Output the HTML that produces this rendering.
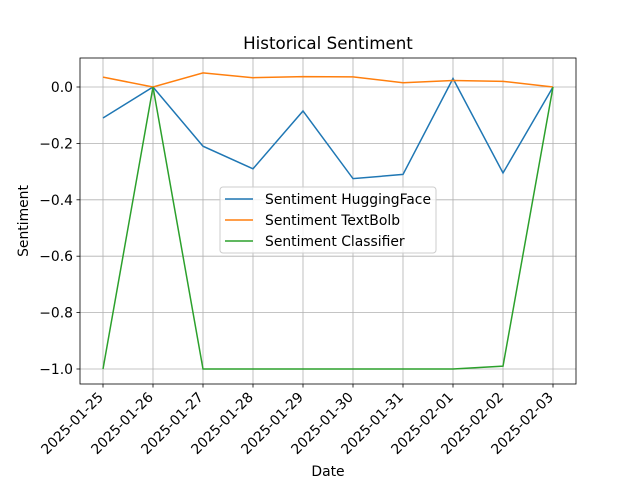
<!DOCTYPE html>
<html><head><meta charset="utf-8"><style>body{margin:0;background:#fff}svg{display:block;font-family:"DejaVu Sans","Liberation Sans",sans-serif}</style></head>
<body>
<svg id="c" width="640" height="480" xmlns="http://www.w3.org/2000/svg"></svg>
<script>
const categories=["2025-01-25","2025-01-26","2025-01-27","2025-01-28","2025-01-29","2025-01-30","2025-01-31","2025-02-01","2025-02-02","2025-02-03"];
const huggingFace=[-0.11,0,-0.21,-0.29,-0.085,-0.325,-0.31,0.03,-0.305,0];
const textBlob=[0.035,0,0.05,0.033,0.037,0.036,0.015,0.023,0.02,0];
const classifier=[-1,0,-1,-1,-1,-1,-1,-1,-0.99,0];
const yTicks=[0,-0.2,-0.4,-0.6,-0.8,-1.0];
const yTickLabels=["0.0","−0.2","−0.4","−0.6","−0.8","−1.0"];
const seriesNames=["Sentiment HuggingFace","Sentiment TextBolb","Sentiment Classifier"];
const colors=["#1f77b4","#ff7f0e","#2ca02c"];
const L=80,R=576,T=58,B=384;
const xs=i=>103+i*50;
const ys=v=>87-v*282;
const svg=document.getElementById('c');
const NS="http://www.w3.org/2000/svg";
function mk(t,a,p){const e=document.createElementNS(NS,t);for(const k in a)e.setAttribute(k,a[k]);(p||svg).appendChild(e);return e;}
categories.forEach((c,i)=>{
 const g=mk('line',{x1:xs(i),x2:xs(i),y1:T,y2:B,stroke:'#b0b0b0','stroke-width':0.8});
 
 
 const tk=mk('line',{x1:xs(i),x2:xs(i),y1:B,y2:B+3.5,stroke:'#000','stroke-width':0.8});
 
 
 const ax=xs(i)+1, ay=B+14;
 const t=mk('text',{x:ax,y:ay,'font-size':13.9,'text-anchor':'end',transform:`rotate(-45 ${ax} ${ay})`});
 t.textContent=c;
 
 
});
yTicks.forEach((v,i)=>{
 const g=mk('line',{x1:L,x2:R,y1:ys(v),y2:ys(v),stroke:'#b0b0b0','stroke-width':0.8});
 
 
 const tk=mk('line',{x1:L-3.5,x2:L,y1:ys(v),y2:ys(v),stroke:'#000','stroke-width':0.8});
 
 
 const t=mk('text',{x:L-7,y:ys(v)+5,'font-size':13.9,'text-anchor':'end'});
 t.textContent=yTickLabels[i];
 
 
});
[huggingFace,textBlob,classifier].forEach((s,k)=>{
 const p=mk('polyline',{points:s.map((v,i)=>xs(i)+','+ys(v)).join(' '),fill:'none',stroke:colors[k],'stroke-width':1.5});
 
 
});
const fr=mk('rect',{x:L,y:T,width:R-L,height:B-T,fill:'none',stroke:'#000','stroke-width':0.8});


const ti=mk('text',{x:328,y:49,'font-size':16.7,'text-anchor':'middle'});ti.textContent='Historical Sentiment';


const xl=mk('text',{x:328,y:476,'font-size':13.9,'text-anchor':'middle'});xl.textContent='Date';


const yl=mk('text',{x:28,y:221,'font-size':13.9,'text-anchor':'middle',transform:'rotate(-90 28 221)'});yl.textContent='Sentiment';


const lg=mk('g',{});


mk('rect',{x:220,y:187,width:216,height:66,rx:3,fill:'#fff','fill-opacity':0.8,stroke:'#ccc'},lg);
seriesNames.forEach((n,k)=>{
 const y=199+k*21;
 const e=mk('g',{},lg);
 
 
 mk('line',{x1:225,x2:253,y1:y,y2:y,stroke:colors[k],'stroke-width':1.5},e);
 const t=mk('text',{x:265,y:y+5,'font-size':13.9},e);t.textContent=n;
});
</script>
</body></html>
